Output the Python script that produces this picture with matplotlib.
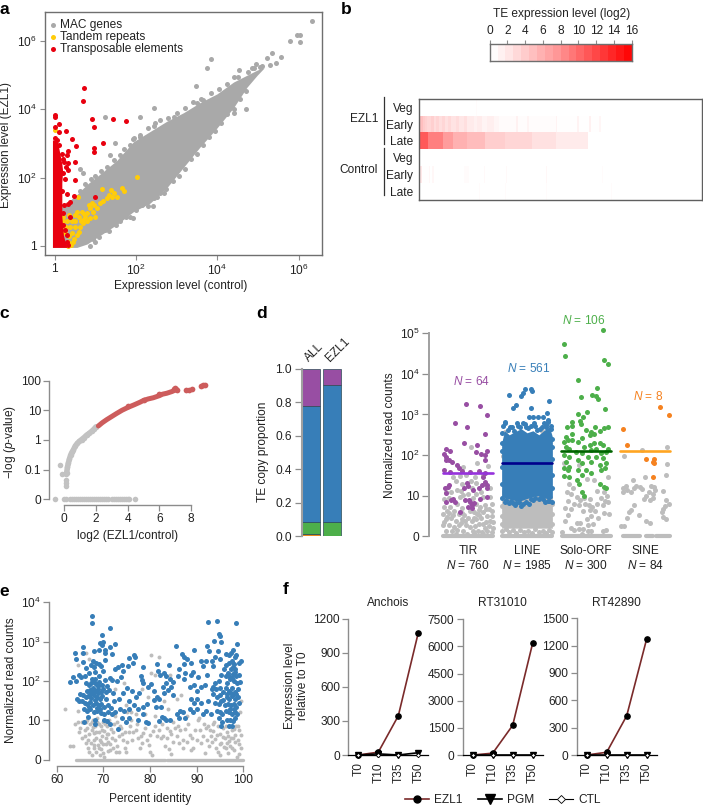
import matplotlib
matplotlib.use('Agg')
import numpy as np
import matplotlib.pyplot as plt
from matplotlib.colors import LinearSegmentedColormap
from matplotlib.lines import Line2D

plt.rcParams['font.family'] = ['Liberation Sans', 'DejaVu Sans']
plt.rcParams['mathtext.fontset'] = 'custom'
plt.rcParams['mathtext.rm'] = 'Liberation Sans'
plt.rcParams['mathtext.it'] = 'Liberation Sans:italic'
plt.rcParams['mathtext.default'] = 'regular'
plt.rcParams['font.size'] = 8.6

W, H = 703, 806
GRAY_AXIS = '#8c8c8c'
DARK = '#222222'

# ---- panel a, all positions are log10 of expression
# the gene cloud overlaps too much to read single points, so its edges were read instead
a_band_x = [-0.05, 0.10, 0.30, 0.55, 0.80, 1.12, 1.53, 1.94, 2.35, 2.76, 3.17, 3.58, 3.99, 4.40, 4.73, 4.98, 5.14]
a_band_low = [-0.05, -0.05, -0.05, -0.05, 0.05, 0.30, 0.62, 1.00, 1.25, 1.70, 2.30, 2.90, 3.45, 4.05, 4.65, 5.00, 5.20]
a_band_high = [1.0, 1.2, 1.25, 1.5, 1.8, 2.1, 2.5, 3.05, 3.35, 3.65, 3.9, 4.2, 4.45, 4.8, 5.0, 5.15, 5.22]
a_gray = [(6.33, 6.6), (5.96, 6.19), (6.02, 6.17), (5.78, 5.99), (6.04, 5.96), (5.34, 5.64), (5.57, 5.54),
          (5.22, 5.51), (5.43, 5.36), (5.30, 5.29), (3.84, 5.48), (3.75, 5.22), (4.54, 5.14), (4.41, 4.95),
          (3.48, 4.68), (3.66, 4.28), (4.70, 4.0), (4.4, 3.89), (2.44, 4.04), (1.25, 3.76), (2.11, 3.76),
          (1.49, 3.01), (1.37, 2.67), (0.63, 2.25), (0.71, 2.13), (2.48, 3.6), (2.09, 3.2), (1.94, 3.13),
          (2.68, 1.54), (2.52, 1.44), (2.42, 1.17), (1.94, 0.80), (1.49, 0.68), (0.88, 0.0), (1.0, 0.1),
          (3.25, 2.62), (3.42, 2.91), (2.93, 3.77), (3.5, 4.19), (5.1, 5.28), (4.95, 5.32), (4.85, 5.2)]
a_gray_edge = [(0.95, 0.2), (1.1, 0.25), (1.25, 0.45), (1.35, 0.42), (1.5, 0.6), (1.62, 0.72), (1.75, 0.85), (1.85, 0.85),
               (2.0, 1.05), (2.15, 1.2), (2.3, 1.15), (2.45, 1.4), (2.6, 1.55), (2.75, 1.65), (2.9, 1.9), (3.05, 2.05),
               (3.2, 2.25), (3.35, 2.55), (3.5, 2.7), (3.65, 2.95), (3.8, 3.2), (3.95, 3.35), (4.1, 3.6), (4.25, 3.85),
               (4.4, 4.0), (4.55, 4.3), (4.7, 4.55), (0.62, 1.6), (0.75, 1.8), (0.9, 1.95), (1.0, 2.05), (1.15, 2.2),
               (1.3, 2.3), (1.45, 2.5), (1.6, 2.65), (1.7, 2.85), (1.85, 2.95), (1.95, 3.15), (2.1, 3.25), (2.3, 3.45),
               (2.45, 3.5), (2.6, 3.68), (2.8, 3.75), (3.0, 3.9), (3.2, 4.05), (3.4, 4.2), (3.6, 4.3), (3.85, 4.48),
               (4.05, 4.6), (4.25, 4.75), (4.5, 4.95), (4.75, 5.1), (4.9, 5.22), (5.05, 5.25)]
a_yellow = [(0.0, 3.38), (2.02, 2.02), (1.16, 1.66), (1.39, 1.64), (1.66, 1.69), (1.70, 1.61), (1.53, 1.42),
            (1.41, 1.44), (1.29, 1.39), (1.12, 1.26), (0.92, 1.25), (0.88, 1.10), (0.94, 1.0), (0.8, 0.95),
            (1.0, 0.85), (0.71, 0.75), (0.55, 1.0), (0.67, 1.0), (0.57, 1.44), (0.51, 0.56), (0.43, 0.36),
            (0.40, 0.02), (0.22, 0.71), (0.22, 0.85), (0.63, 0.56), (0.59, 0.41), (0.47, 0.21), (0.34, 0.12),
            (0.8, 0.71), (0.51, 0.71), (0.26, 0.36), (0.38, 0.56), (0.18, 0.46), (0.30, 0.71), (0.71, 0.66),
            (0.36, 0.9), (0.6, 0.85), (1.05, 1.12), (1.2, 1.3), (0.75, 0.85), (0.45, 0.1), (0.32, 0.0),
            (0.98, 1.2), (0.85, 1.18), (1.33, 1.5), (1.46, 1.55), (0.42, 0.72), (0.5, 0.9), (0.28, 0.55), (0.36, 0.28),
            (0.55, 0.3), (0.66, 0.72), (0.86, 0.82), (0.72, 0.92)]
a_red = [(0.02, 3.84), (0.02, 3.77), (0.01, 3.47), (0.1, 3.57), (0.1, 3.33), (0.29, 3.36), (0.43, 3.13),
         (0.54, 2.92), (0.34, 2.79), (0.30, 2.67), (0.5, 2.46), (0.34, 2.42), (0.34, 2.23), (0.51, 1.92),
         (0.30, 1.51), (0.48, 1.47), (0.39, 1.29), (0.34, 1.23), (0.37, 0.85), (0.26, 0.46), (0.30, 0.31),
         (0.72, 4.61), (0.71, 4.24), (0.93, 3.72), (0.96, 3.49), (1.43, 3.72), (1.75, 3.65), (1.18, 3.01),
         (0.96, 2.86), (0.96, 2.76), (0.99, 1.42), (0.05, 3.1), (0.0, 3.15), (0.18, 2.7), (0.24, 2.45), (0.28, 2.3),
         (0.2, 2.55), (0.22, 2.12), (0.26, 1.95), (0.18, 1.6), (0.24, 1.2), (0.22, 0.95), (0.2, 0.6), (0.3, 0.1),
         (0.34, 0.02), (0.12, 2.95)]
# dense red column at x = 1, right edge per height
a_red_y = [-0.05, 0.3, 0.85, 1.35, 1.85, 2.2, 2.4, 2.9, 3.1]
a_red_edge = [0.3, 0.22, 0.18, 0.18, 0.18, 0.2, 0.18, 0.1, 0.06]
a_ticks = [0, 2, 4, 6]

# ---- panel b
b_bar_levels = [0.2, 0.9, 1.6, 2.4, 3.2, 4.0, 4.9, 5.7, 6.5, 7.5, 8.5, 9.5, 10.5, 11.5, 12.5, 13.5, 14.5, 15.5]
b_ticks = list(range(0, 17, 2))
b_rows = ['Veg', 'Early', 'Late', 'Veg', 'Early', 'Late']
b_edges = {
    'ezl_veg': [0, 170, 174, 850],
    'ezl_early': [0, 12, 18, 24, 36, 44, 52, 60, 70, 78, 88, 96, 110, 120, 135, 145, 165, 175, 190, 205, 225, 240, 290, 296,
                  325, 330, 410, 414, 475, 480, 510, 516, 540, 545, 850],
    'ezl_late': [0, 28, 73, 101, 143, 198, 258, 338, 411, 506, 850],
    'ctl_veg': [0, 850],
    'ctl_early': [0, 8, 30, 34, 40, 44, 135, 150, 195, 198, 260, 263, 380, 383, 548, 551, 850],
    'ctl_late': [0, 180, 183, 258, 261, 380, 383, 577, 580, 850],
}
b_values = {
    'ezl_veg': [0, 0.3, 0],
    'ezl_early': [4.0, 3.3, 2.9, 2.5, 3.0, 2.2, 2.7, 2.1, 2.6, 1.9, 2.4, 1.8, 2.2, 1.6, 2.0, 1.3, 0.9, 1.2, 0.7, 1.0, 0.6,
                  0.3, 0.9, 0.2, 0.7, 0.2, 0.8, 0.1, 0.8, 0.1, 0.9, 0.1, 0.6, 0],
    'ezl_late': [10.4, 8.0, 6.2, 4.9, 4.2, 3.1, 2.6, 1.9, 1.3, 0],
    'ctl_veg': [0],
    'ctl_early': [1.4, 0.1, 0.5, 0, 0.5, 0, 0.3, 0, 0.4, 0, 0.4, 0, 0.5, 0, 0.3, 0],
    'ctl_late': [0, 0.3, 0, 0.3, 0, 0.3, 0, 0.3, 0],
}
b_order = ['ezl_veg', 'ezl_early', 'ezl_late', 'ctl_veg', 'ctl_early', 'ctl_late']

# ---- panel c, x = log2 ratio, y = log10 p (-2 is the row labelled 0)
c_zero_x = [-0.6, -0.05, 0.1, 0.35, 0.47, 0.6, 0.72, 0.85, 1.0, 1.12, 1.25, 1.37, 1.5, 1.63, 1.75, 1.88, 2.0, 2.13,
            2.25, 2.38, 2.5, 2.63, 2.75, 3.0, 3.12, 3.25, 3.38, 3.5, 3.63, 3.75, 3.88, 4.0, 4.1, 4.45]
c_gray_x = [-0.25, -0.15, 0.08, 0.08, 0.08, 0.08, 0.12, 0.15, 0.2, 0.25, 0.32, 0.4, 0.48, 0.57, 0.7, 0.82, 0.95, 1.09,
            1.25, 1.41, 1.57, 1.73, 1.87, 2.0]
c_gray_y = [-0.85, -1.15, -1.13, -1.35, -1.46, -1.55, -1.15, -1.1, -0.92, -0.79, -0.65, -0.51, -0.42, -0.34, -0.2,
            -0.12, -0.05, 0.01, 0.08, 0.16, 0.22, 0.29, 0.36, 0.44]
c_red_x = [2.15, 2.4, 2.67, 3.0, 3.3, 3.65, 4.04, 4.4, 4.78, 5.0, 5.3, 5.62, 6.0, 6.2, 6.46, 6.8, 7.09]
c_red_y = [0.47, 0.58, 0.68, 0.79, 0.89, 1.0, 1.1, 1.18, 1.27, 1.33, 1.38, 1.42, 1.49, 1.54, 1.57, 1.63, 1.7]
c_red_pts_x = [4.0, 5.0, 6.0, 6.9, 7.0, 7.1, 7.7, 7.85, 8.05, 8.6, 8.75, 8.85]
c_red_pts_y = [1.14, 1.35, 1.55, 1.72, 1.75, 1.68, 1.67, 1.68, 1.72, 1.82, 1.84, 1.84]

# ---- panel d stacked bars
d_bar_names = ['ALL', 'EZL1']
d_orange = [0.012, 0.002]
d_green = [0.073, 0.083]
d_blue = [0.695, 0.815]
d_purple = [0.22, 0.10]

# ---- panel d strips: (offset in the column, log10 count), 0 on the axis is log10 = 0
d_names = ['TIR\n$\\mathit{N}$ = 760', 'LINE\n$\\mathit{N}$ = 1985', 'Solo-ORF\n$\\mathit{N}$ = 300', 'SINE\n$\\mathit{N}$ = 84']
tir_color = [(-.03, 3.27), (.21, 3.2), (.33, 2.98), (-.22, 2.78), (-.01, 2.70), (.29, 2.51), (-.07, 2.31), (.15, 2.24),
             (-.38, 2.15), (.32, 2.11), (-.3, 2.1), (.13, 2.07), (.22, 2.02), (-.41, 2.02), (.29, 2.0), (-.37, 1.96),
             (-.33, 1.89), (.29, 1.89), (-.27, 1.84), (-.37, 1.88), (-.19, 1.75), (-.15, 1.69), (-.11, 1.61),
             (-.4, 1.63), (-.31, 1.58), (.03, 1.58), (.18, 1.6), (.29, 1.55), (.26, 1.47), (.29, 1.34), (.32, 1.26),
             (.23, 1.26), (.33, 1.18), (-.32, 1.26), (-.39, 1.2), (-.34, 1.22), (-.02, 1.32), (0, 1.24), (-.06, 1.18),
             (.18, 1.2), (.09, 1.14), (-.37, 1.06), (.33, .96), (-.25, .93), (-.28, .89), (-.22, .85), (-.37, .84),
             (.02, .89), (.21, .92), (.03, .85), (.06, .77), (0, .73), (.06, .69), (.10, .81), (-.14, .61), (-.05, .89)]
tir_gray = [(.05, 2.2), (.16, 1.81), (-.08, 1.71), (.34, 1.73), (-.25, 1.45), (-.14, 1.48), (-.04, 1.5), (.12, 1.46),
            (.25, 1.52), (-.38, 1.1), (-.2, 1.35), (-.1, 1.3), (.05, 1.35), (.14, 1.32), (.38, 1.2), (-.28, 1.1),
            (-.18, 1.15), (.0, 1.05), (.14, 1.05), (.22, 1.1), (.38, .98), (-.41, .92), (-.33, .95), (-.14, .96),
            (-.08, 1.02), (.08, .95), (.26, .98), (.4, .8), (-.4, .72), (-.3, .72), (-.18, .8), (-.1, .7), (.13, .8),
            (.2, .72), (.28, .78), (.36, .68), (-.42, .55), (-.33, .58), (-.24, .62), (-.16, .55), (-.06, .52),
            (.1, .6), (.16, .55), (.25, .6), (.33, .5), (.41, .5), (-.38, .42), (-.28, .45), (-.2, .38), (-.1, .42),
            (.0, .45), (.07, .38), (.14, .42), (.22, .45), (.3, .36), (.38, .38), (-.42, .28), (-.33, .28), (-.24, .22),
            (-.15, .28), (-.03, .28), (.04, .22), (.12, .25), (.19, .3), (.28, .2), (.36, .26), (.42, .2), (-.37, .14),
            (-.27, .12), (-.18, .15), (-.08, .12), (.08, .13), (.17, .14), (.24, .1), (.33, .13), (.4, .1), (-.21, .05),
            (-.02, .06), (.11, .08), (.27, .04), (-.12, 1.12), (.06, 1.18), (.28, 1.3), (-.36, .62), (-.26, .52),
            (-.11, .58), (.03, .62), (.19, .65), (.31, .68), (.4, .62), (-.35, .48), (-.12, .32), (.18, .52), (.42, .36),
            (-.05, .38), (.1, .46), (.26, .3), (-.4, .36)]
line_color = [(-.31, 3.47), (-.04, 3.64), (.07, 3.64), (.09, 3.58), (-.06, 3.52), (-.1, 3.46), (.37, 3.34), (-.18, 3.24),
              (-.24, 3.15), (.07, 3.17), (.34, 3.04), (.10, 2.93), (.03, 2.93), (.19, 2.94), (.27, 2.93), (-.38, 2.82),
              (.36, 2.86), (-.24, .83), (-.1, .75), (-.18, .81), (.38, .87), (.27, .91), (-.01, .85), (.1, .89),
              (-.35, .89), (-.4, 2.72), (-.28, 2.68), (-.15, 2.72), (-.03, 2.76), (.13, 2.72), (.25, 2.68), (.33, 2.75),
              (.4, 2.65), (.42, 2.4), (-.42, 2.3), (-.42, 2.55), (-.37, 2.78), (-.33, 2.62), (-.26, 2.7), (-.22, 2.6),
              (-.17, 2.78), (-.12, 2.68), (-.07, 2.8), (-.02, 2.7), (.02, 2.66), (.07, 2.72), (.12, 2.78), (.17, 2.62),
              (.22, 2.65), (.28, 2.78), (.32, 2.68), (.36, 2.82), (.41, 2.72), (.42, 2.2), (-.43, 2.1), (.43, 1.9),
              (-.43, 1.7), (.43, 1.5), (-.43, 1.3), (.43, 1.2), (-.42, .95), (-.37, .85), (-.3, .82), (-.27, .88),
              (-.21, .78), (-.14, .84), (-.06, .8), (.03, .8), (.07, .92), (.14, .95), (.2, .92), (.24, .98), (.31, .85),
              (.35, .88), (.42, .85)]
line_gray = [(-.38, 2.58), (.25, 2.6), (.34, 2.55), (-.41, 1.98), (-.41, 2.1), (-.42, .12), (-.36, .18), (-.3, .1),
             (-.24, .15), (-.18, .08), (-.12, .16), (-.05, .1), (.02, .14), (.08, .08), (.14, .17), (.2, .1), (.27, .14),
             (.33, .08), (.38, .16), (.43, .1), (-.43, .3), (.43, .3), (-.43, .5), (.43, .55), (-.43, .75), (.43, .8)]
line_x = [-.43, -.38, -.3, -.2, -.1, 0, .1, .2, .3, .38, .43]
line_top = [2.3, 2.6, 2.5, 2.58, 2.65, 2.55, 2.6, 2.5, 2.62, 2.7, 2.45]
line_bottom = [1.0, .95, .92, .88, .88, .93, .98, 1.0, .95, .9, .95]
line_gray_top = [1.15, 1.1, 1.05, 1.0, .95, .95, .98, 1.05, 1.1, 1.0, 1.0]
line_gray_bottom = [.2] * 11
solo_color = [(.29, 5.09), (-.38, 4.74), (-.36, 4.45), (.31, 4.34), (.38, 4.25), (-.14, 3.85), (.19, 3.66), (.10, 3.49),
              (-.09, 3.44), (.17, 3.45), (.2, 3.37), (.32, 3.14), (.01, 3.07), (-.14, 3.01), (-.05, 2.94), (-.23, 2.82),
              (-.11, 2.84), (-.33, 2.7), (-.23, 2.71), (-.08, 2.76), (.37, 2.7), (.31, 2.66), (.15, 2.68), (0, 2.61),
              (.08, 2.57), (.23, 2.6), (.06, 2.49), (.14, 2.51), (-.34, 2.45), (-.23, 2.53), (-.31, 2.37), (-.38, 2.33),
              (-.23, 2.37), (-.06, 2.41), (-.14, 2.33), (.23, 2.29), (.06, 2.25), (.14, 2.29), (-.34, 2.2), (-.28, 2.16),
              (-.03, 2.2), (.17, 2.16), (.28, 2.25), (.37, 2.16), (-.17, 2.08), (-.06, 2.04), (.08, 2.12), (.25, 2.04),
              (.34, 2.08), (-.37, 2.0), (-.28, 1.96), (.03, 1.96), (.17, 1.96), (.28, 1.92), (-.14, 1.88), (-.34, 1.84),
              (.08, 1.84), (-.06, 1.8), (.23, 1.75), (.34, 1.8), (-.28, 1.71), (-.37, 1.67), (-.3, 1.63), (-.14, 1.63),
              (0, 1.63), (.25, 1.63), (.33, 1.67), (.08, 1.55), (-.06, 1.51), (-.37, 1.48), (-.28, 1.47), (-.16, 1.39),
              (-.12, 1.3), (.23, 1.3), (.31, 1.22), (.34, 1.18), (-.06, 1.1), (-.03, 1.0)]
solo_gray = [(-.38, 1.8), (-.12, 1.75), (.38, 1.47), (.14, 1.38), (.02, 1.4), (-.28, 1.28), (-.22, 1.2), (-.33, 1.1),
             (-.26, 1.05), (.18, 1.12), (.3, 1.08), (.36, 1.0), (.26, .95), (-.15, .98), (-.1, .9), (-.04, .95),
             (.07, .92), (.33, .88), (-.3, .88), (-.2, .8), (-.12, .78), (-.02, .8), (.05, .76), (.1, .72), (.19, .8),
             (.28, .78), (.37, .85), (-.36, .7), (-.25, .68), (-.05, .62), (.06, .65), (.16, .62), (.3, .58), (.39, .55),
             (-.31, .52), (.09, .5), (.2, .45), (.02, .42), (-.36, .38), (-.15, .32), (-.1, .32), (.03, .28), (.12, .3),
             (-.25, .2), (-.2, .16), (-.12, .18), (-.05, .18), (.04, .14), (.08, .12), (.28, .14), (.34, .15), (-.4, .1),
             (-.06, .06)]
sine_color = [(.26, 3.18), (.4, 2.99), (-.37, 2.65), (-.3, 2.24), (.02, 1.9), (.16, 1.9), (.14, 1.84), (.15, 1.8), (.14, 1.46)]
sine_gray = [(-.36, 1.98), (-.05, 2.12), (.38, 2.2), (.38, 1.78), (.36, 1.5), (-.2, 1.38), (-.33, 1.25), (-.37, 1.18),
             (-.3, 1.15), (-.37, 1.08), (-.19, 1.2), (-.15, 1.25), (-.24, 1.1), (-.08, 1.22), (-.05, 1.17), (.0, 1.45),
             (.1, 1.25), (.15, 1.22), (.07, 1.1), (.13, 1.05), (.02, 1.0), (-.02, .92), (.08, .9), (.14, .95),
             (.17, 1.13), (.3, 1.12), (.36, .9), (.4, .8), (.34, .75), (.31, .68), (-.18, .78), (-.23, .65), (-.3, .45),
             (-.27, .6), (-.1, .52), (.02, .38), (.08, .32), (.28, .6), (.3, .47), (.36, .42), (-.41, .25), (-.35, .25)]
zero_segments = [[(-.42, .42)], [(-.43, .43)], [(-.41, .42)], [(-.38, -.09), (.02, .13), (.19, .42)]]
medians = [1.55, 1.8, 2.1, 2.1]
n_labels = ['$\\mathit{N}$ = 64', '$\\mathit{N}$ = 561', '$\\mathit{N}$ = 106', '$\\mathit{N}$ = 8']

# ---- panel e, (percent identity, log10 count)
e_blue = [(67.5, 3.65), (67.5, 3.48), (71.4, 3.35), (69.7, 3.16), (72.6, 2.93), (69.3, 2.96), (69.9, 3.0), (69.7, 2.92),
          (71.4, 2.86), (65.7, 2.86), (64, 2.71), (65.7, 2.72), (67.9, 2.77), (69, 2.8), (70.4, 2.79), (70.4, 2.7),
          (71.8, 2.68), (64.1, 2.56), (65.7, 2.49), (70.4, 2.53), (67.8, 2.5), (68.4, 2.46), (69.1, 2.43), (67.3, 2.4),
          (68, 2.35), (69.6, 2.37), (66.3, 2.33), (64.8, 2.15), (63.5, 2.1), (62.9, 1.98), (64.2, 2.0), (65.2, 2.1),
          (66, 2.12), (67, 2.2), (68.2, 2.22), (69, 2.12), (70, 2.25), (71.5, 2.08), (72.4, 2.3), (73.2, 2.36),
          (74, 2.4), (75.5, 2.58), (76.5, 2.65), (76.8, 2.6), (76.4, 2.45), (75.2, 2.38), (74.3, 2.25), (73.8, 2.1),
          (72.9, 2.0), (71.8, 2.02), (66.2, 1.95), (66.9, 1.9), (67.3, 1.95), (67.9, 1.98), (68.5, 1.92), (69.1, 1.98),
          (69.7, 1.9), (70.3, 2.02), (70.8, 1.88), (66.5, 1.75), (67.2, 1.78), (67.8, 1.82), (68.3, 1.75), (68.9, 1.8),
          (69.5, 1.72), (70, 1.8), (70.6, 1.72), (71.2, 1.76), (72, 1.7), (65, 1.68), (65.6, 1.65), (66.2, 1.6),
          (66.8, 1.62), (67.4, 1.58), (68, 1.65), (68.6, 1.6), (69.2, 1.55), (69.8, 1.62), (70.5, 1.55), (64.3, 1.55),
          (64.8, 1.48), (65.4, 1.5), (66, 1.45), (66.6, 1.42), (67.2, 1.46), (67.8, 1.38), (68.4, 1.45), (69, 1.38),
          (69.6, 1.42), (70.2, 1.35), (70.9, 1.4), (71.6, 1.32), (72.3, 1.48), (73.4, 1.55), (74.2, 1.7), (75, 1.82),
          (75.5, 1.5), (76.2, 1.75), (76.9, 1.6), (77.6, 1.7), (65.8, 1.3), (66.5, 1.25), (67.2, 1.28), (68, 1.2),
          (68.7, 1.25), (69.4, 1.18), (70.2, 1.15), (71, 1.2), (71.8, 1.15), (72.5, 1.22), (73.5, 1.28), (74.5, 1.25),
          (75.6, 1.3), (76.6, 1.4), (77.5, 1.3), (78.5, 1.35), (79.3, 1.42), (66.7, 1.08), (68.3, 1.0), (70.2, 1.02),
          (70.8, .98), (68.2, .9), (65.8, .95), (71.5, .9), (73.2, .78), (74.8, .95), (75.5, 1.05), (74, 1.05),
          (77.4, 1.02), (78.5, 1.15), (79.2, .97), (79.5, .94), (78.4, 2.35), (78, 2.12), (78.3, 2.02), (78.5, 1.95),
          (79.5, 1.85), (80.2, 1.93), (80.8, 1.75), (81.5, 1.6), (81.2, 1.35), (80.8, 1.52), (82, 1.55), (82.3, 1.35),
          (81.6, 2.42), (81.8, 2.25), (82.2, 2.15), (83, 2.2), (83.5, 2.12), (84, 2.4), (84.2, 2.05), (83.5, 1.95),
          (82.8, 1.85), (83, 1.7), (83.8, 1.78), (84.6, 1.85), (85, 1.65), (85, 1.98), (85.5, 2.9), (86, 2.12),
          (86.3, 2.3), (86.8, 2.68), (87.2, 2.62), (87.3, 2.42), (87.5, 2.2), (88, 2.55), (87.3, 2.05), (86.5, 1.25),
          (85.8, 1.15), (87, 1.2), (87.5, 1.05), (86.3, 1.05), (83, 1.05), (83.5, 1.0), (82.5, 1.08), (82, .98),
          (84.2, 1.0), (88.7, 2.45), (89.5, 2.78), (89.2, 2.22), (90.3, 2.1), (88.8, 2.15), (88.6, 1.85), (89.5, 1.9),
          (90, 1.75), (91, 1.85), (88.8, 1.55), (89.5, 1.45), (90, 1.55), (88.5, 1.3), (89.2, 1.2), (90, 1.3),
          (91, 1.45), (91, 2.52), (91.4, 2.38), (92, 2.5), (92.3, 2.15), (91.8, 1.9), (92.5, 3.5), (92.3, 2.9),
          (92.6, 2.75), (93.2, 2.5), (93.6, 2.38), (94, 2.6), (94.4, 3.53), (94.8, 3.2), (95, 3.15), (93.8, 3.02),
          (95.2, 2.98), (94.6, 2.75), (95, 2.55), (92.5, 1.5), (92, 1.25), (91.4, 1.15), (93, 1.15), (93.3, 1.8),
          (94, 1.95), (94.8, 2.0), (95.3, 2.15), (95.8, 2.3), (96.2, 2.4), (96.3, 2.68), (97, 2.65), (97.3, 2.7),
          (97.8, 2.78), (98.3, 2.6), (98.5, 2.65), (98.4, 3.48), (98.6, 2.95), (99.5, 2.5), (99, 2.45), (97, 2.45),
          (97.5, 2.52), (98, 2.42), (98.2, 2.3), (97.3, 2.3), (96.8, 2.2), (96.3, 2.12), (97.8, 2.18), (98.5, 2.12),
          (99, 2.15), (97.2, 2.05), (96.4, 1.95), (97.9, 2.0), (98.7, 1.95), (99.2, 1.98), (93.5, 1.85), (94.2, 1.8),
          (95, 1.82), (95.6, 1.72), (96.3, 1.82), (96.9, 1.75), (97.5, 1.82), (98.2, 1.72), (98.9, 1.8), (93.6, 1.68),
          (94.4, 1.6), (95, 1.65), (95.7, 1.52), (96.4, 1.6), (97, 1.55), (97.6, 1.62), (98.2, 1.55), (98.9, 1.6),
          (94, 1.45), (94.7, 1.42), (95.3, 1.5), (96, 1.38), (96.7, 1.42), (97.3, 1.38), (97.9, 1.42), (98.5, 1.35),
          (99, 1.45), (94.3, 1.25), (95, 1.22), (95.5, 1.15), (96.3, 1.25), (97, 1.2), (97.6, 1.15), (98.2, 1.2),
          (98.7, 1.15), (94.8, 1.05), (95.4, .95), (96.6, 1.02), (97.2, 1.0), (97.8, .98), (98.3, 1.05), (96.9, .85),
          (97.6, .85), (95.2, .85), (67.6, 2.05), (68.3, 2.05), (68.9, 1.88), (67.1, 1.68), (67.7, 1.72), (68.3, 1.52),
          (68.9, 1.7), (67, 1.35), (68.6, 1.32), (69.3, 1.3), (97, 2.12), (97.7, 2.35), (98.3, 2.22), (97.6, 2.08),
          (96.6, 1.68), (97.3, 1.7), (97.9, 1.68), (98.5, 1.68), (97.2, 1.28), (97.9, 1.28)]
e_gray = [(61.8, 1.3), (62.8, .35), (63.5, .35), (64, .9), (64.5, .95), (64.8, .7), (65, .8), (65.4, .95), (66, .75),
          (65.5, .55), (66.2, .42), (66.7, .3), (67, .2), (67.6, .12), (67.9, .3), (68, .5), (68.4, .2), (68.8, .38),
          (69.2, .12), (69.6, .28), (70, .18), (70.2, .08), (70.6, .4), (71, .22), (71.4, .25), (72, .3), (72.8, .2),
          (73.4, .2), (74.7, .3), (75, .45), (74.8, .2), (66.2, .95), (66.6, .8), (67, .65), (67.2, .9), (67.5, .75),
          (67.7, 1.0), (68, .68), (68.2, .85), (68.5, .55), (68.7, .95), (69, .7), (69.2, .5), (69.4, .85), (69.7, .6),
          (70, .95), (70.2, .72), (70.5, .55), (70.8, .85), (71, .65), (71.3, 1.0), (71.6, .78), (71.9, .55), (72.2, .9),
          (72.6, 1.1), (73, .95), (73.3, .6), (73.8, .8), (74.3, .5), (74.6, .7), (75, 1.2), (75.8, .85), (76.4, .7),
          (77, .75), (77.5, .55), (77.8, .3), (78.2, .42), (78.5, .68), (79.3, .5), (79.8, .38), (80, .2), (80.4, .12),
          (80.7, .72), (81, .85), (81.5, .6), (82, .75), (82.3, .55), (82.8, .6), (83.2, .35), (83.6, .55), (84, .28),
          (84.4, .15), (84.6, .65), (85, .45), (85.4, .8), (85.8, .6), (86.2, .42), (86.5, .75), (87, .5), (87.5, .78),
          (88, .45), (88.5, .62), (88.8, .25), (89.3, .3), (89.7, .75), (90, .5), (90.5, 1.05), (91, .42), (91.4, .6),
          (91.8, .18), (92.2, .5), (92.6, .35), (93, .6), (93.3, .45), (93.6, .72), (94, .52), (94.2, .3), (94.6, .2),
          (94.9, .65), (95, .12), (95.3, .42), (95.7, .8), (96, .55), (96.2, .3), (96.5, .7), (96.7, .18), (97, .48),
          (97.2, .35), (97.5, .75), (97.8, .55), (98, .25), (98.3, .62), (98.6, .08), (98.8, .85), (99.1, .75),
          (99.3, 1.2), (99.5, 1.5), (99.4, .62), (99, .15), (80.2, 2.65), (82, 2.62), (78.2, 1.8), (79.5, 1.6),
          (80.3, 2.2), (81, 2.15), (84.3, 2.15), (86.7, 1.65), (85.7, 1.55), (83, 1.5), (72.5, 1.8), (74.5, 1.95),
          (66.3, 2.7), (65.5, 2.7), (64.6, 2.4), (67, 2.55), (74.8, 1.4), (76, 1.2), (77, 1.15), (79, 1.15), (81, 1.1),
          (83.8, 1.3), (88, 1.1), (90.3, 1.02), (91.5, .9), (92.4, .85), (93.8, .95), (64.5, 1.25), (65, 1.5),
          (66.5, 1.0), (66, .6), (66.8, .5), (67.3, .42), (67.5, .95), (67.8, .82), (68.1, .38), (68.4, .7), (68.6, 1.05),
          (69, .3), (69.1, .9), (69.5, .45), (69.8, .75), (70, .4), (70.4, .9), (70.7, .65), (71, .45), (71.2, .9),
          (71.5, .4), (72, .7), (72.4, .5), (73, .35), (73.5, .85), (74, .65), (74.9, .95), (75.5, .7), (76, 1.0),
          (76.2, .5), (77.3, .9), (78, .6), (79, .8), (80, .62), (82.6, .9), (83.6, .8), (84.2, .72), (85, .95),
          (86, .85), (87, .3), (88.2, .9), (89, .55), (90.8, .75), (92, .8), (92.8, .75), (93.4, .9), (94.6, .85),
          (94.3, .62), (95, .4), (95.6, .58), (95.9, .32), (96.2, .85), (96.5, .42), (96.8, .6), (97, .85), (97.3, .55),
          (97.6, .3), (97.9, .78), (98.2, .45), (98.5, .85), (98.8, .5), (99.1, .4), (99.5, .3)]
e_zero_segments = [(64.1, 83.2), (83.6, 100)]

# ---- panel f
f_names = ['Anchois', 'RT31010', 'RT42890']
f_times = ['T0', 'T10', 'T35', 'T50']
f_series = ['EZL1', 'PGM', 'CTL']
f_ezl = [[0, 25, 345, 1077], [0, 100, 1642, 6190], [0, 30, 430, 1275]]
f_pgm = [[0, 10, 0, 20], [0, 0, 0, 0], [0, 0, 0, 0]]
f_ctl = [[0, 0, 0, 0], [0, 0, 0, 0], [0, 0, 0, 0]]
f_yticks = [[0, 300, 600, 900, 1200], [0, 1500, 3000, 4500, 6000, 7500], [0, 300, 600, 900, 1200, 1500]]


def add_ax(left, top, right, bottom):
    return fig.add_axes([left / W, 1 - bottom / H, (right - left) / W, (bottom - top) / H])


def px_text(x, y, s, **kw):
    kw.setdefault('ha', 'center')
    kw.setdefault('va', 'center')
    return fig.text(x / W, 1 - y / H, s, **kw)


def px_line(x0, y0, x1, y1, **kw):
    fig.add_artist(Line2D([x0 / W, x1 / W], [1 - y0 / H, 1 - y1 / H], **kw))


def log_lim(p0, per_dec, low_px, high_px, v0=0.0):
    # limits of a log axis from the pixel of one tick and the decade size
    return 10 ** (v0 + (p0 - low_px) / per_dec), 10 ** (v0 + (p0 - high_px) / per_dec)


def pts(ax, data, color, s=13, z=3):
    arr = np.array(data)
    ax.scatter(10 ** arr[:, 0], 10 ** arr[:, 1], s=s, c=color, lw=0, zorder=z, clip_on=False)


fig = plt.figure(figsize=(W / 100, H / 100), dpi=100)
for lab, x, y in [('a', 4, 9), ('b', 346, 9), ('c', 4, 314), ('d', 262, 314), ('e', 4, 591), ('f', 286, 590)]:
    px_text(x, y, lab, fontsize=12.5, fontweight='bold')

# a
ax = add_ax(44.5, 12.3, 321.7, 255)
ax.set_xscale('log')
ax.set_yscale('log')
ax.set_xlim(*log_lim(54.5, -40.7, 44.5, 321.7))
ax.set_ylim(*log_lim(245.7, 34.1, 255, 12.3))
ax.fill_between(10 ** np.array(a_band_x), 10 ** np.array(a_band_low), 10 ** np.array(a_band_high),
                color='#a9a9a9', lw=0, zorder=1)
pts(ax, a_gray, '#a9a9a9', z=2)
pts(ax, a_gray_edge, '#a9a9a9', z=2)
pts(ax, a_yellow, '#ffcc0a', z=3)
ax.fill_betweenx(10 ** np.array(a_red_y), 10 ** -0.05, 10 ** np.array(a_red_edge), color='#e8000f', lw=0, zorder=4)
pts(ax, a_red, '#e8000f', z=4)
ax.set_xticks([10 ** t for t in a_ticks], ['1', '$10^2$', '$10^4$', '$10^6$'])
ax.set_yticks([10 ** t for t in a_ticks], ['1', '$10^2$', '$10^4$', '$10^6$'])
ax.minorticks_off()
ax.tick_params(length=3.5, width=0.8, color=GRAY_AXIS, pad=2, labelcolor=DARK)
for sp in ax.spines.values():
    sp.set_color('#6f6f6f')
    sp.set_linewidth(1.0)
for c, lab in zip(['#a9a9a9', '#ffcc0a', '#e8000f'], ['MAC genes', 'Tandem repeats', 'Transposable elements']):
    ax.scatter([], [], s=13, c=c, lw=0, label=lab)
ax.legend(loc='upper left', frameon=False, fontsize=8.6, bbox_to_anchor=(0.0, 0.992), handlelength=0.7,
          handletextpad=0.2, labelspacing=0.02, borderpad=0.3, borderaxespad=0.1, labelcolor=DARK)
px_text(181, 286, 'Expression level (control)', color=DARK)
px_text(6, 145, 'Expression level (EZL1)', rotation=90, color=DARK)

# b
cmap = LinearSegmentedColormap.from_list('wr', ['#ffffff', '#ff0000'])
cax = add_ax(489.7, 44.3, 631.7, 60.5)
edges = np.linspace(0, 16, len(b_bar_levels) + 1)
cax.pcolormesh(edges, [0, 1], [b_bar_levels], cmap=cmap, vmin=0, vmax=16)
cax.set_yticks([])
cax.set_xticks(b_ticks)
cax.xaxis.tick_top()
cax.tick_params(length=3, width=0.8, color=GRAY_AXIS, pad=2.5, labelcolor=DARK)
for sp in cax.spines.values():
    sp.set_color('#6f6f6f')
    sp.set_linewidth(1.0)
px_text(562, 14, 'TE expression level (log2)', color=DARK)

ax = add_ax(419, 98.7, 702.3, 200)
for i, key in enumerate(b_order):
    ax.pcolormesh(b_edges[key], [i, i + 1], [b_values[key]], cmap=cmap, vmin=0, vmax=16)
ax.set_xlim(0, 850)
ax.set_ylim(6, 0)
ax.set_xticks([])
ax.set_yticks(np.arange(6) + 0.5, b_rows)
ax.tick_params(length=0, pad=4, labelcolor=DARK)
for sp in ax.spines.values():
    sp.set_color('#5f5f5f')
    sp.set_linewidth(1.0)
px_line(383.7, 96.7, 383.7, 144.3, color='#333333', lw=0.9)
px_line(383.7, 147.7, 383.7, 195, color='#333333', lw=0.9)
px_text(378, 119, 'EZL1', ha='right', color=DARK)
px_text(378, 170, 'Control', ha='right', color=DARK)

# c
ax = add_ax(49.3, 375, 210, 505)
ax.set_yscale('log')
ax.set_xlim((49.3 - 64.3) / 15.85, (210 - 64.3) / 15.85)
ax.set_ylim(*log_lim(499.3, 29.7, 505, 375, v0=-2))
GC = '#c2c2c2'
RC = '#cd5c5c'
ax.scatter(c_zero_x, [0.01] * len(c_zero_x), s=16, c=GC, lw=0, zorder=2, clip_on=False)
ax.plot(c_gray_x[6:], 10 ** np.array(c_gray_y[6:]), color=GC, lw=4, solid_capstyle='round', zorder=2)
ax.scatter(c_gray_x, 10 ** np.array(c_gray_y), s=16, c=GC, lw=0, zorder=2)
ax.plot(c_red_x, 10 ** np.array(c_red_y), color=RC, lw=3.6, solid_capstyle='round', zorder=3)
ax.scatter(c_red_pts_x, 10 ** np.array(c_red_pts_y), s=17, c=RC, lw=0, zorder=3, clip_on=False)
ax.set_xticks([0, 2, 4, 6, 8])
ax.set_yticks([0.01, 0.1, 1, 10, 100], ['0', '0.1', '1', '10', '100'])
ax.minorticks_off()
ax.spines[['top', 'right']].set_visible(False)
ax.spines['left'].set_bounds(0.01, 100)
ax.spines['bottom'].set_bounds(0, 8)
for k in ['left', 'bottom']:
    ax.spines[k].set_color(GRAY_AXIS)
    ax.spines[k].set_linewidth(1.0)
ax.tick_params(length=4, width=0.9, color=GRAY_AXIS, pad=2, labelcolor=DARK)
px_text(128, 536, 'log2 (EZL1/control)', color=DARK)
px_text(10, 442, '\u2212log ($\\mathit{p}$-value)', rotation=90, color=DARK)

# d bars
ax = add_ax(301.5, 368.7, 342, 536.3)
bottom = np.zeros(2)
for vals, c in zip([d_orange, d_green, d_blue, d_purple], ['#e8871e', '#4daf4a', '#377eb8', '#984ea3']):
    ax.bar([0, 1], vals, bottom=bottom, width=[0.88, 0.86], color=c, edgecolor='#2c4a55', lw=0.5)
    bottom = bottom + np.array(vals)
ax.set_xlim(-0.46, 1.47)
ax.set_ylim(0, 1)
ax.set_yticks([0, 0.2, 0.4, 0.6, 0.8, 1.0], ['0.0', '0.2', '0.4', '0.6', '0.8', '1.0'])
ax.set_xticks([0, 1], d_bar_names, rotation=45, ha='left', rotation_mode='anchor')
ax.xaxis.tick_top()
ax.tick_params(axis='x', length=0, pad=3, labelcolor=DARK)
ax.tick_params(axis='y', length=5, width=0.9, color=GRAY_AXIS, pad=2, labelcolor=DARK)
ax.spines[['top', 'right', 'bottom']].set_visible(False)
ax.spines['left'].set_color('#a0a0a0')
ax.spines['left'].set_linewidth(1.5)
px_text(263, 452, 'TE copy proportion', rotation=90, color=DARK)

# d strips
ax = add_ax(429.3, 325, 680, 543)
ax.set_yscale('log')
ax.set_ylim(*log_lim(536.3, 40.6, 543, 325))
ax.set_xlim((429.3 - 468) / 59, (680 - 468) / 59)
GD = '#bdbdbd'
colors = ['#984ea3', '#377eb8', '#4daf4a', '#f58220']
med_colors = ['#9632dc', '#00008b', '#006400', '#ffa522']
grays = [tir_gray, line_gray, solo_gray, sine_gray]
marks = [tir_color, line_color, solo_color, sine_color]
for i in range(4):
    for a, b in zero_segments[i]:
        ax.plot([i + a, i + b], [1, 1], color=GD, lw=3, solid_capstyle='round', zorder=1, clip_on=False)
    g = np.array(grays[i])
    ax.scatter(i + g[:, 0], 10 ** g[:, 1], s=13, c=GD, lw=0, zorder=2)
    m = np.array(marks[i])
    ax.scatter(i + m[:, 0], 10 ** m[:, 1], s=13, c=colors[i], lw=0, zorder=3)
    ax.plot([i - 0.43, i + 0.43], [10 ** medians[i]] * 2, color=med_colors[i], lw=1.9, zorder=5,
            solid_capstyle='round')
lx = 1 + np.array(line_x)
ax.fill_between(lx, 10 ** np.array(line_gray_bottom), 10 ** np.array(line_gray_top), color=GD, lw=0, zorder=1.5)
ax.fill_between(lx, 10 ** np.array(line_bottom), 10 ** np.array(line_top), color='#377eb8', lw=0, zorder=2.5)
ax.set_xticks(range(4), d_names)
ax.set_yticks([1, 10, 100, 1e3, 1e4, 1e5], ['0', '10', '$10^2$', '$10^3$', '$10^4$', '$10^5$'])
ax.minorticks_off()
ax.spines[['top', 'right', 'bottom']].set_visible(False)
ax.spines['left'].set_bounds(1, 1e5)
ax.spines['left'].set_color('#a0a0a0')
ax.spines['left'].set_linewidth(1.4)
ax.tick_params(axis='x', length=0, pad=1.5, labelcolor=DARK)
ax.tick_params(axis='y', length=5, width=0.9, color=GRAY_AXIS, pad=2, labelcolor=DARK)
for (x, y), lab, c in zip([(471.7, 381), (528.3, 369), (584, 320), (648.3, 396)], n_labels, colors):
    px_text(x, y, lab, color=c)
px_text(390, 435, 'Normalized read counts', rotation=90, color=DARK)

# e
ax = add_ax(49, 598, 248, 765.7)
ax.set_yscale('log')
ax.set_ylim(*log_lim(759.7, 39.35, 765.7, 598))
ax.set_xlim(60 + (49 - 56.7) / 4.665, 60 + (248 - 56.7) / 4.665)
GE = '#bdbdbd'
for a, b in e_zero_segments:
    ax.plot([a, b], [1, 1], color=GE, lw=2.4, solid_capstyle='round', zorder=1)
arr = np.array(e_gray)
ax.scatter(arr[:, 0], 10 ** arr[:, 1], s=8, c=GE, lw=0, zorder=2)
arr = np.array(e_blue)
ax.scatter(arr[:, 0], 10 ** arr[:, 1], s=13, c='#377eb8', lw=0, zorder=3)
ax.set_xticks([60, 70, 80, 90, 100])
ax.set_yticks([1, 10, 100, 1e3, 1e4], ['0', '10', '$10^2$', '$10^3$', '$10^4$'])
ax.minorticks_off()
ax.spines[['top', 'right']].set_visible(False)
ax.spines['left'].set_bounds(1, 1e4)
ax.spines['bottom'].set_bounds(60, 100)
for k in ['left', 'bottom']:
    ax.spines[k].set_color(GRAY_AXIS)
    ax.spines[k].set_linewidth(1.0)
ax.tick_params(length=4, width=0.9, color=GRAY_AXIS, pad=2, labelcolor=DARK)
px_text(150, 799, 'Percent identity', color=DARK)
px_text(11, 680, 'Normalized read counts', rotation=90, color=DARK)

# f
lefts = [348.3, 462.7, 576.7]
tops = [618.7, 619.3, 618.3]
for i, name in enumerate(f_names):
    ax = add_ax(lefts[i], tops[i], lefts[i] + 80, 755)
    ymax = f_yticks[i][-1]
    ax.set_xlim(-0.5, 3.5)
    ax.set_ylim(0, ymax)
    ax.plot(range(4), f_ezl[i], color='#7a2a2a', lw=1.2, marker='o', ms=3.8, mfc='k', mec='k', clip_on=False, zorder=4)
    ax.plot(range(4), f_pgm[i], color='k', lw=1.2, marker='v', ms=3.8, mfc='k', mec='k', clip_on=False, zorder=5)
    ax.plot(range(4), f_ctl[i], color='k', lw=0.8, marker='D', ms=2.2, mfc='white', mec='k', mew=0.6, clip_on=False,
            zorder=6)
    ax.set_xticks(range(4), f_times, rotation=90)
    ax.set_yticks(f_yticks[i])
    ax.spines[['top', 'right']].set_visible(False)
    ax.spines['bottom'].set_color('k')
    ax.spines['bottom'].set_linewidth(0.9)
    ax.spines['left'].set_color(GRAY_AXIS)
    ax.spines['left'].set_linewidth(1.0)
    ax.tick_params(axis='x', direction='inout', length=3.5, width=0.8, pad=3.5, labelcolor=DARK)
    ax.tick_params(axis='y', length=4, width=0.9, color=GRAY_AXIS, pad=2, labelcolor=DARK)
    ax.set_zorder(5 - i)
    ax.patch.set_alpha(0)
    px_text(lefts[i] + 40, 603, name, color=DARK)
px_text(296.5, 686, 'Expression level\nrelative to T0', rotation=90, color=DARK, linespacing=1.05)
leg_handles = [Line2D([], [], color='#7a2a2a', lw=1.2, marker='o', ms=5, mfc='k', mec='k'),
               Line2D([], [], color='k', lw=1.2, marker='v', ms=7, mfc='k', mec='k'),
               Line2D([], [], color='k', lw=0.8, marker='D', ms=3.6, mfc='white', mec='k', mew=0.6)]
fig.legend(leg_handles, f_series, loc='center', bbox_to_anchor=(503 / W, 1 - 800 / H), ncol=3,
           frameon=False, fontsize=8.6, handlelength=2.0, handletextpad=0.4, columnspacing=1.3, labelcolor=DARK)

fig.savefig('out.png', dpi=100)
